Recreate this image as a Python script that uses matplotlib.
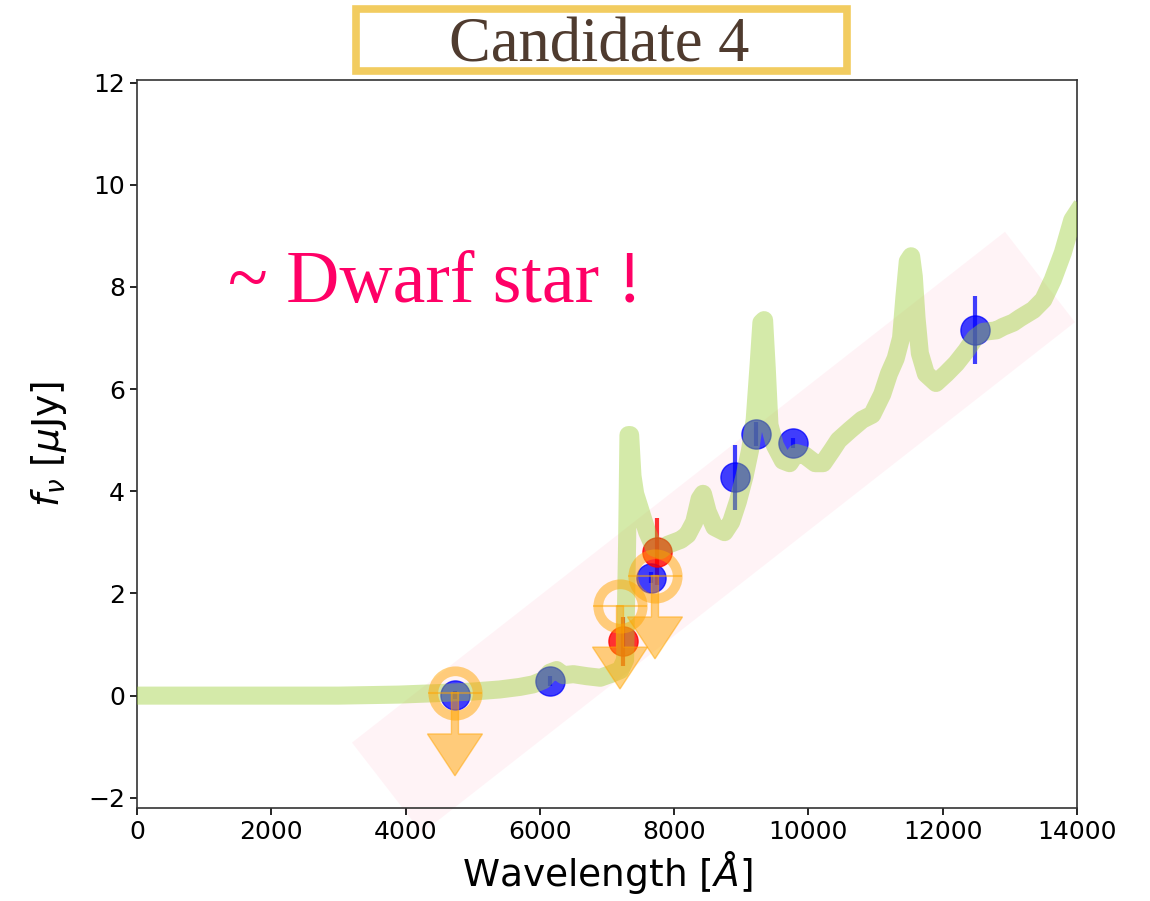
import matplotlib
matplotlib.use("Agg")
import matplotlib.pyplot as plt
from matplotlib.patches import Polygon, Rectangle

# --- model spectrum (wavelength in Angstrom, flux in uJy) ---
spec_wave = [0, 1000, 2000, 3000, 3900, 4500, 5000, 5400, 5700, 5900, 6050,
             6150, 6250, 6350, 6500, 6700, 6900, 7050, 7200, 7270, 7300,
             7320, 7345, 7380, 7420, 7480, 7540, 7600, 7700, 7800, 7900,
             8000, 8100, 8200, 8300, 8380, 8430, 8500, 8600, 8750, 8850,
             8950, 9050, 9130, 9200, 9260, 9300, 9340, 9380, 9420, 9500,
             9620, 9720, 9820, 9950, 10100, 10220, 10350, 10450, 10620,
             10800, 10950, 11100, 11200, 11300, 11380, 11430, 11480, 11530,
             11570, 11610, 11660, 11750, 11900, 12050, 12200, 12350, 12480,
             12600, 12800, 12900, 13050, 13150, 13350, 13500, 13640, 13790,
             13930, 14000]
spec_flux = [0.0, 0.0, 0.0, 0.0, 0.02, 0.05, 0.08, 0.12, 0.17, 0.22, 0.3,
             0.45, 0.5, 0.4, 0.42, 0.38, 0.35, 0.42, 0.5, 0.7, 3.0,
             5.1, 5.1, 4.3, 3.95, 3.7, 3.45, 3.2, 2.9, 2.85, 2.95,
             3.0, 3.05, 3.15, 3.4, 3.85, 3.95, 3.6, 3.3, 3.2, 3.4,
             3.8, 4.3, 4.8, 5.4, 6.5, 7.3, 7.35, 6.4, 5.3, 4.9,
             4.6, 4.55, 4.75, 4.7, 4.55, 4.55, 4.8, 5.0, 5.2,
             5.4, 5.5, 5.9, 6.3, 6.6, 7.0, 7.8, 8.5, 8.6,
             8.2, 7.4, 6.7, 6.3, 6.12, 6.3, 6.5, 6.75, 7.0,
             7.12, 7.15, 7.22, 7.3, 7.39, 7.55, 7.75, 8.14, 8.67,
             9.31, 9.45]

# --- photometry ---
blue_wave = [4736, 6151, 7655, 8907, 9219, 9770, 12481]
blue_flux = [0.02, 0.29, 2.31, 4.27, 5.12, 4.94, 7.16]
blue_err = [0.08, 0.1, 0.1, 0.64, 0.24, 0.1, 0.66]

red_wave = [7238, 7745]
red_flux = [1.06, 2.82]
red_err = [0.48, 0.65]

# upper limits (open circles with arrows)
ulim_wave = [4736, 7194, 7715]
ulim_flux = [0.06, 1.76, 2.35]
ulim_xerr = 400
ulim_arrow = 1.63

# shaded trend band (corners in data units)
band_wave = [3202, 12928, 13970, 4245]
band_flux = [-0.92, 9.08, 7.31, -2.69]

fig = plt.figure(figsize=(11.5, 9.01), dpi=100)
ax = fig.add_axes([0.1191, 0.1032, 0.8174, 0.808])

ax.add_patch(Polygon(list(zip(band_wave, band_flux)), closed=True,
                     facecolor="#ff8fb0", edgecolor="none", alpha=0.1,
                     clip_on=False, zorder=1))

ax.errorbar(blue_wave, blue_flux, yerr=blue_err, fmt="o", color="blue",
            ms=21, elinewidth=3, capsize=0, alpha=0.75, zorder=2)
ax.errorbar(red_wave, red_flux, yerr=red_err, fmt="o", color="red",
            ms=21, elinewidth=3, capsize=0, alpha=0.8, zorder=2)

ax.plot(spec_wave, spec_flux, color="#9acd32", lw=13, alpha=0.42,
        solid_joinstyle="round", zorder=3)

orange = "#ffa500"
ax.errorbar(ulim_wave, ulim_flux, xerr=ulim_xerr, fmt="o", ms=32,
            mfc="none", mec=orange, mew=7, ecolor=orange, elinewidth=1.5,
            capsize=0, alpha=0.5, zorder=4)
for x, y in zip(ulim_wave, ulim_flux):
    ax.arrow(x, y, 0, -ulim_arrow, width=105, head_width=820,
             head_length=0.82, length_includes_head=True,
             fc=orange, ec=orange, lw=1, alpha=0.5, zorder=4)

ax.text(1355, 7.71, "~ Dwarf star !", fontsize=53, color="#ff0066",
        family="Liberation Serif", va="baseline", ha="left")

ax.set_xlim(0, 14000)
ax.set_ylim(-2.2, 12.05)
ax.set_xticks(range(0, 14001, 2000))
ax.set_yticks(range(-2, 13, 2))
ax.tick_params(labelsize=18, length=5, width=1.2)
for sp in ax.spines.values():
    sp.set_linewidth(1.2)
    sp.set_color("#333333")

ax.set_xlabel(r"Wavelength [$\AA$]", fontsize=27)
ax.set_ylabel(r"$f_{\nu}$ [$\mu$Jy]", fontsize=27, labelpad=14)

# boxed heading
fig.add_artist(Rectangle((355.5 / 1150, 1 - 70.5 / 901), 491 / 1150,
                         61.5 / 901, transform=fig.transFigure,
                         facecolor="white", edgecolor="#f2cc60", lw=5.5))
fig.text(599 / 1150, 1 - 62 / 901, "Candidate 4", fontsize=45,
         family="Liberation Serif", color="#4f3b2f", ha="center",
         va="baseline")

fig.savefig("out.png", dpi=100)
